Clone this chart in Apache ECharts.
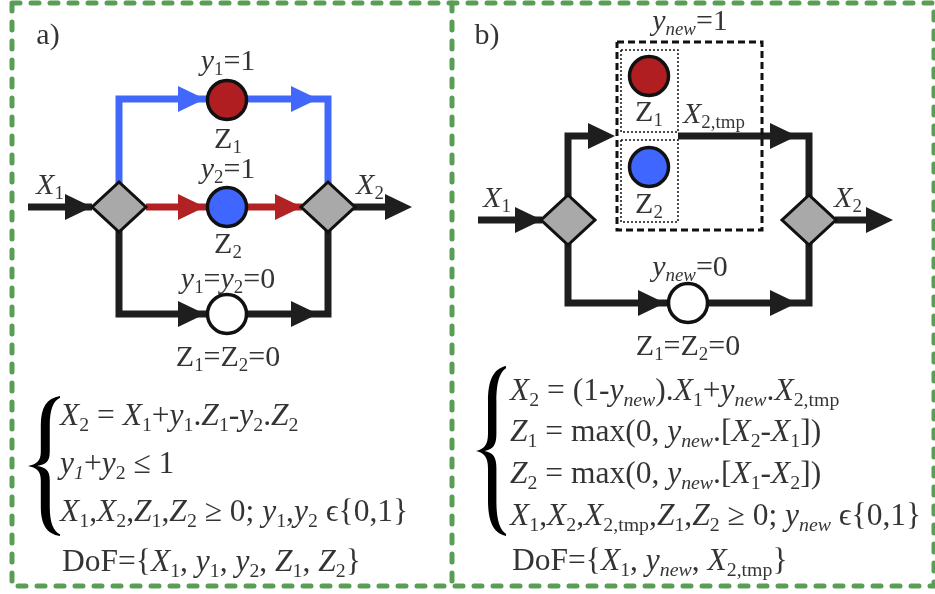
<!DOCTYPE html>
<html><head><meta charset="utf-8">
<script src="https://cdn.jsdelivr.net/npm/echarts@6/dist/echarts.min.js"></script>
<style>html,body{margin:0;padding:0;background:#fff}#c{width:935px;height:594px}</style>
</head><body><div id="c"></div>
<script>
// ---------- diagram data (diagram coordinate space: x 0..935, y 0..594) ----------
const diamonds = [[119,207],[328,207],[568,220],[809,220]];
const circlesRed = [[227,100],[649,76]];
const circlesBlue = [[227,207],[649,167]];
const circlesWhite = [[227,314],[688,303]];
const pathBlueA = [[119,207],[119,99],[328,99],[328,207]];
const pathRedA = [[146,207],[302,207]];
const blackPaths = [
  [[28,207],[92,207]],
  [[353,207],[395,207]],
  [[119,207],[119,314],[328,314],[328,207]],
  [[478,220],[542,220]],
  [[835,220],[875,220]],
  [[568,220],[568,136],[600,136]],
  [[678,136],[809,136],[809,220]],
  [[568,220],[568,303],[809,303],[809,220]]
];
const arrowTipsBlue = [[205,99],[318,99]];
const arrowTipsRed = [[205,207],[302,207]];
const arrowTipsBlack = [[92,207],[412,207],[205,314],[318,314],[542,220],[893,220],[615,136],[797,136],[665,303],[797,303]];
const dashedBox = [[617,42],[762,42],[762,230],[617,230],[617,42]];
const dottedBoxes = [
  [[621,50],[678,50],[678,132],[621,132],[621,50]],
  [[621,140],[678,140],[678,222],[621,222],[621,140]]
];
const frame = [[12,3],[934,3],[934,586],[12,586],[12,3]];
const divider = [[452,3],[452,586]];
const braceCenters = [[44,466],[491,451]];

const nodeLabelPos = [[48,36],[228,62],[228,140],[228,170],[228,245],[228,280],[228,358],[50,186],[370,186],
  [487,36],[690,22],[649,113],[649,205],[497,199],[848,199],[690,268],[688,347]];
const nodeLabelText = [
  '{n|a)}',
  '{i|y}{s|1}{n|=1}',
  '{n|Z}{s|1}',
  '{i|y}{s|2}{n|=1}',
  '{n|Z}{s|2}',
  '{i|y}{s|1}{n|=}{i|y}{s|2}{n|=0}',
  '{n|Z}{s|1}{n|=Z}{s|2}{n|=0}',
  '{i|X}{s|1}',
  '{i|X}{s|2}',
  '{n|b)}',
  '{i|y}{si|new}{n|=1}',
  '{n|Z}{s|1}',
  '{n|Z}{s|2}',
  '{i|X}{s|1}',
  '{i|X}{s|2}',
  '{i|y}{si|new}{n|=0}',
  '{n|Z}{s|1}{n|=Z}{s|2}{n|=0}'
];
const tmpLabelPos = [[683,115]];
const tmpLabelText = ['{i|X}{s|2,tmp}'];

const eqPos = [[60,417],[60,465],[60,513],[62,563],[510,392],[510,433],[510,475],[510,517],[512,562]];
const eqText = [
  '{i|X}{s|2}{n| = }{i|X}{s|1}{n|+}{i|y}{s|1}{n|.}{i|Z}{s|1}{n|-}{i|y}{s|2}{n|.}{i|Z}{s|2}',
  '{i|y}{si|1}{n|+}{i|y}{s|2}{n| ≤ 1}',
  '{i|X}{s|1}{n|,}{i|X}{s|2}{n|,}{i|Z}{s|1}{n|,}{i|Z}{s|2}{n| ≥ 0; }{i|y}{s|1}{n|,}{i|y}{s|2}{n| ϵ{0,1}}',
  '{n|DoF={}{i|X}{s|1}{n|, }{i|y}{s|1}{n|, }{i|y}{s|2}{n|, }{i|Z}{s|1}{n|, }{i|Z}{s|2}}',
  '{i|X}{s|2}{n| = (1-}{i|y}{si|new}{n|).}{i|X}{s|1}{n|+}{i|y}{si|new}{n|.}{i|X}{s|2,tmp}',
  '{i|Z}{s|1}{n| = max(0, }{i|y}{si|new}{n|.[}{i|X}{s|2}{n|-}{i|X}{s|1}{n|])}',
  '{i|Z}{s|2}{n| = max(0, }{i|y}{si|new}{n|.[}{i|X}{s|1}{n|-}{i|X}{s|2}{n|])}',
  '{i|X}{s|1}{n|,}{i|X}{s|2}{n|,}{i|X}{s|2,tmp}{n|,}{i|Z}{s|1}{n|,}{i|Z}{s|2}{n| ≥ 0; }{i|y}{si|new}{n| ϵ{0,1}}',
  '{n|DoF={}{i|X}{s|1}{n|, }{i|y}{si|new}{n|, }{i|X}{s|2,tmp}}'
];

// ---------- styles ----------
const FONT = '"Liberation Serif", "Times New Roman", "DejaVu Serif", serif';
const TXT = '#000000';
const BLACK = '#1e1e1e';
const BLUE = '#4268fb';
const RED = '#b22224';
const GREEN = '#5a9e56';
const ARROW_W = 27, ARROW_H = 26;
const NODE_FS = 30, EQ_FS = 31.5;
const braceSizes = [[32,140],[30,170]];
const BRACE = 'path://M100,2C58,8 40,35 40,85L40,160C40,186 26,196 0,200C26,204 40,214 40,240L40,315C40,365 58,392 100,398L100,393C80,384 68,362 68,315L68,240C68,212 56,204 28,200C56,196 68,188 68,160L68,85C68,38 80,16 100,7Z';
const ARROW = 'path://M0,0L10,5L0,10Z';

function rich(size) {
  const sub = size * 0.63;
  return {
    n: {fontFamily: FONT, fontSize: size, lineHeight: size * 1.2, color: TXT},
    i: {fontFamily: FONT, fontSize: size, lineHeight: size * 1.2, color: TXT, fontStyle: 'italic'},
    s: {fontFamily: FONT, fontSize: sub, lineHeight: size * 0.42, color: TXT, verticalAlign: 'bottom'},
    si: {fontFamily: FONT, fontSize: sub, lineHeight: size * 0.42, color: TXT, verticalAlign: 'bottom', fontStyle: 'italic'}
  };
}
function labelItems(pos, texts, size, position) {
  return pos.map((p, k) => ({
    value: p,
    label: {show: true, position: position, distance: 0, formatter: texts[k],
      fontFamily: FONT, fontSize: size, color: TXT, rich: rich(size)}
  }));
}
function lineSeries(pts, style, z) {
  return {type: 'line', data: pts, showSymbol: false, symbol: 'none', silent: true, z: z,
    lineStyle: Object.assign({join: 'miter', cap: 'butt'}, style)};
}
function arrowSeries(tips, color) {
  return {type: 'scatter', symbol: ARROW, symbolSize: [ARROW_W, ARROW_H], symbolKeepAspect: false, silent: true, z: 4,
    itemStyle: {color: color, opacity: 1},
    data: tips.map(t => [t[0] - ARROW_W / 2, t[1]])};
}
function circleSeries(pts, color) {
  return {type: 'scatter', symbol: 'circle', symbolSize: 39, silent: true, z: 5,
    itemStyle: {color: color, borderColor: '#111', borderWidth: 3.5, opacity: 1}, data: pts};
}

const series = [];
series.push(lineSeries(frame, {color: GREEN, width: 5, type: [8, 11], cap: 'round'}, 1));
series.push(lineSeries(divider, {color: GREEN, width: 5, type: [8, 11], cap: 'round'}, 1));
blackPaths.forEach(p => series.push(lineSeries(p, {color: BLACK, width: 7}, 2)));
series.push(lineSeries(pathBlueA, {color: BLUE, width: 7}, 2));
series.push(lineSeries(pathRedA, {color: RED, width: 7}, 2));
series.push(lineSeries(dashedBox, {color: '#111', width: 3, type: [7, 4]}, 3));
dottedBoxes.forEach(b => series.push(lineSeries(b, {color: '#111', width: 1.5, type: [2, 2]}, 3)));
series.push(arrowSeries(arrowTipsBlack, BLACK));
series.push(arrowSeries(arrowTipsBlue, BLUE));
series.push(arrowSeries(arrowTipsRed, RED));
series.push(circleSeries(circlesRed, '#b01e22'));
series.push(circleSeries(circlesBlue, '#3f66ff'));
series.push(circleSeries(circlesWhite, '#ffffff'));
series.push({type: 'scatter', symbol: 'diamond', symbolSize: [54, 50], silent: true, z: 5,
  itemStyle: {color: '#a9a9a9', borderColor: '#111', borderWidth: 3, opacity: 1}, data: diamonds});
series.push({type: 'scatter', symbol: BRACE, symbolKeepAspect: false, silent: true, z: 5,
  itemStyle: {color: '#000', opacity: 1},
  data: braceCenters.map((c, k) => ({value: c, symbolSize: braceSizes[k]}))});
series.push({type: 'scatter', symbolSize: 0, silent: true, z: 6, itemStyle: {color: 'transparent'},
  data: labelItems(nodeLabelPos, nodeLabelText, NODE_FS, 'inside')
    .concat(labelItems(tmpLabelPos, tmpLabelText, NODE_FS, 'right'))
    .concat(labelItems(eqPos, eqText, EQ_FS, 'right'))});

const chart = echarts.init(document.getElementById('c'), null, {renderer: 'canvas'});
chart.setOption({
  animation: false,
  backgroundColor: '#ffffff',
  grid: {left: 0, right: 0, top: 0, bottom: 0},
  xAxis: {type: 'value', min: 0, max: 935, show: false},
  yAxis: {type: 'value', min: 0, max: 594, inverse: true, show: false},
  series: series
});
</script></body></html>
